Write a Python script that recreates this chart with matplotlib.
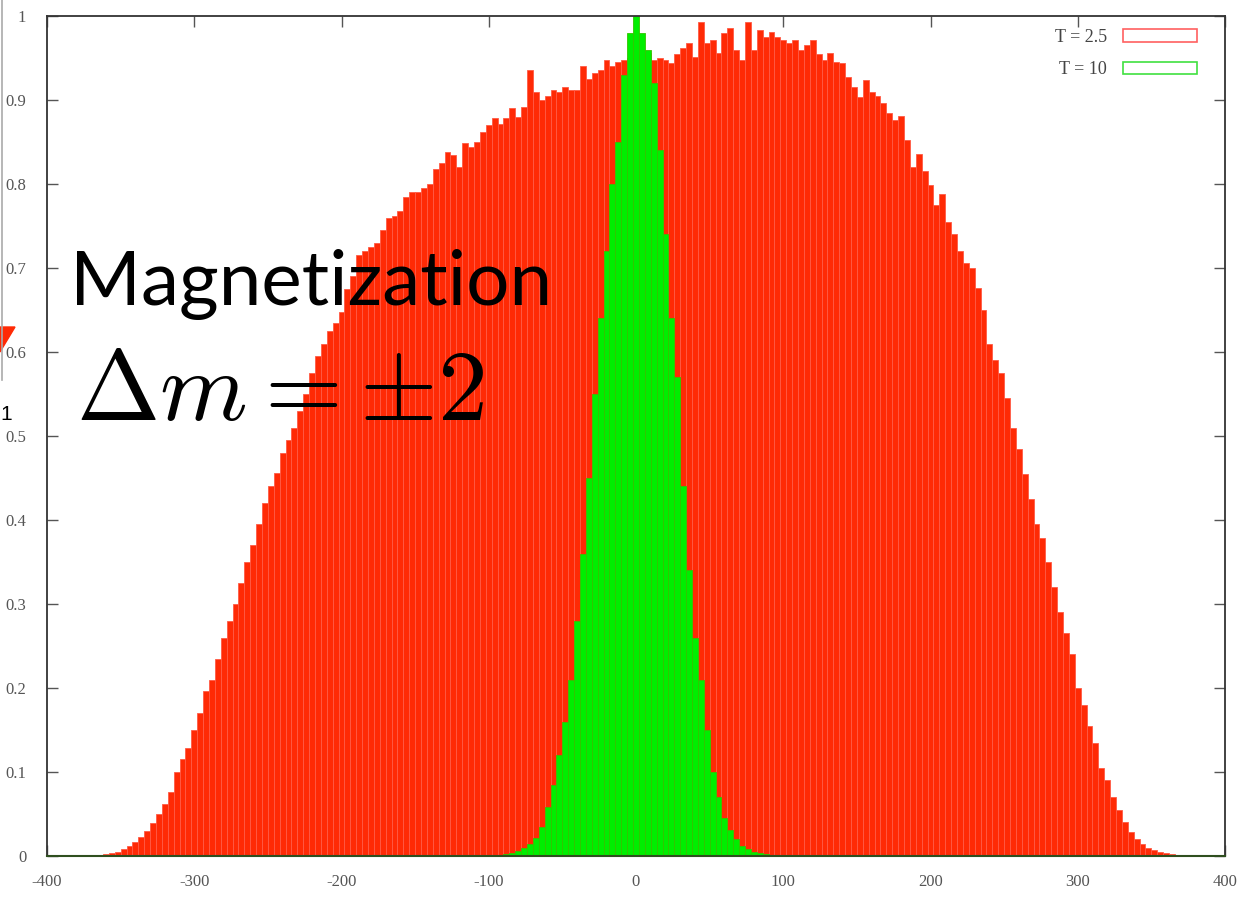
import numpy as np
import matplotlib
matplotlib.use("Agg")
import matplotlib.pyplot as plt
from matplotlib.patches import Patch, Polygon

# Histogram of magnetization, bins every 4 units
red_label = "T = 2.5"
red_v = [
    0.0005, 0.001, 0.002, 0.003, 0.005, 0.008, 0.012, 0.017, 0.023, 0.030,
    0.039, 0.050, 0.062, 0.076, 0.100, 0.115, 0.128, 0.150, 0.170, 0.197,
    0.210, 0.235, 0.260, 0.280, 0.300, 0.325, 0.350, 0.370, 0.395, 0.420,
    0.440, 0.456, 0.480, 0.495, 0.510, 0.530, 0.550, 0.575, 0.595, 0.610,
    0.625, 0.635, 0.648, 0.675, 0.690, 0.715, 0.720, 0.725, 0.730, 0.745,
    0.760, 0.762, 0.768, 0.785, 0.790, 0.790, 0.795, 0.800, 0.818, 0.825,
    0.838, 0.835, 0.820, 0.849, 0.844, 0.850, 0.862, 0.870, 0.878, 0.872,
    0.878, 0.890, 0.880, 0.892, 0.936, 0.910, 0.900, 0.905, 0.912, 0.910,
    0.916, 0.912, 0.912, 0.940, 0.925, 0.932, 0.936, 0.948, 0.940, 0.945,
    0.948, 0.950, 0.950, 0.955, 0.956, 0.948, 0.950, 0.948, 0.944, 0.955,
    0.962, 0.968, 0.951, 0.993, 0.968, 0.971, 0.956, 0.980, 0.986, 0.960,
    0.948, 0.993, 0.960, 0.983, 0.975, 0.981, 0.975, 0.971, 0.968, 0.971,
    0.960, 0.965, 0.971, 0.955, 0.948, 0.956, 0.945, 0.944, 0.927, 0.915,
    0.904, 0.924, 0.910, 0.905, 0.897, 0.885, 0.876, 0.881, 0.852, 0.820,
    0.836, 0.815, 0.799, 0.775, 0.788, 0.755, 0.740, 0.720, 0.706, 0.700,
    0.676, 0.650, 0.610, 0.590, 0.575, 0.545, 0.510, 0.485, 0.455, 0.425,
    0.395, 0.378, 0.350, 0.320, 0.290, 0.265, 0.240, 0.200, 0.180, 0.155,
    0.135, 0.105, 0.090, 0.070, 0.055, 0.040, 0.028, 0.020, 0.014, 0.010,
    0.007, 0.005, 0.003, 0.002, 0.001,
]
red_m = np.arange(-368, 369, 4)

green_label = "T = 10"
green_v = [
    0.000, 0.001, 0.002, 0.004, 0.006, 0.009, 0.014, 0.022, 0.035, 0.058,
    0.085, 0.120, 0.160, 0.210, 0.280, 0.360, 0.450, 0.550, 0.640, 0.720,
    0.800, 0.850, 0.930, 0.980, 1.000, 0.980, 0.960, 0.920, 0.840, 0.740,
    0.640, 0.570, 0.440, 0.340, 0.260, 0.210, 0.150, 0.100, 0.070, 0.045,
    0.031, 0.020, 0.012, 0.008, 0.005, 0.003, 0.002, 0.001, 0.000,
]
green_m = np.arange(-96, 97, 4)

x_ticks = [-400, -300, -200, -100, 0, 100, 200, 300, 400]
x_tick_labels = ["-400", "-300", "-200", "-100", "0", "100", "200", "300", "400"]
y_ticks = [0, 0.1, 0.2, 0.3, 0.4, 0.5, 0.6, 0.7, 0.8, 0.9, 1]
y_tick_labels = ["0", "0.1", "0.2", "0.3", "0.4", "0.5", "0.6", "0.7", "0.8", "0.9", "1"]

plt.rcParams["mathtext.fontset"] = "cm"

fig = plt.figure(figsize=(12.53, 9), dpi=100)
ax = fig.add_axes([47 / 1253, 1 - 856 / 900, 1178 / 1253, 840 / 900])

ax.bar(red_m, red_v, width=4, color="#ff2a05", edgecolor="#ff5a45", linewidth=0.6, zorder=2)
ax.bar(green_m, green_v, width=4, color="#00ee00", edgecolor="#33c400", linewidth=0.6, zorder=3)

ax.set_xlim(-400, 400)
ax.set_ylim(0, 1)
ax.set_xticks(x_ticks)
ax.set_xticklabels(x_tick_labels)
ax.set_yticks(y_ticks)
ax.set_yticklabels(y_tick_labels)
ax.tick_params(direction="in", length=8, width=1, color="#555555", top=True, right=True,
               labelsize=12, labelcolor="#555555")
ax.tick_params(axis="y", pad=15)
ax.tick_params(axis="x", pad=13)
for lab in ax.get_xticklabels() + ax.get_yticklabels():
    lab.set_fontfamily("Liberation Serif")
for side in ["left", "top", "right"]:
    ax.spines[side].set_color("#333333")
    ax.spines[side].set_linewidth(1.3)
ax.spines["bottom"].set_color("#2f4f1f")
ax.spines["bottom"].set_linewidth(1.5)
for s in ax.spines.values():
    s.set_zorder(5)

# legend: label on the left, hollow box on the right
handles = [Patch(facecolor="white", edgecolor="#ff6060", linewidth=1.2),
           Patch(facecolor="white", edgecolor="#40e040", linewidth=1.2)]
leg = ax.legend(handles, [red_label, green_label], loc="upper right",
                bbox_to_anchor=((1197 - 47) / 1178, (856 - 29) / 840),
                frameon=False, markerfirst=False, handlelength=4.1, handleheight=0.7,
                handletextpad=0.9, labelspacing=0.85, borderpad=0, borderaxespad=0,
                prop={"family": "Liberation Serif", "size": 13})
for t in leg.get_texts():
    t.set_color("#444444")

# slide overlay text
fig.text(70 / 1253, 1 - 305 / 900, "Magnetization", family=["Lato", "DejaVu Sans"],
         fontsize=55, color="black", va="baseline", ha="left", zorder=10)
fig.text(76 / 1253, 1 - 420 / 900, r"$\Delta m = \pm 2$", fontsize=72,
         color="black", va="baseline", ha="left", zorder=10)

# bits of the slide at the left edge
fig.add_artist(plt.Line2D([1.5 / 1253, 1.5 / 1253], [1 - 380 / 900, 1], color="#aaaaaa", lw=1.2))
fig.add_artist(Polygon([[0, 1 - 327 / 900], [15 / 1253, 1 - 327 / 900], [0, 1 - 352 / 900]],
                       closed=True, color="#ff2a05", transform=fig.transFigure))
fig.text(0, 1 - 420 / 900, "1", fontsize=15, family="Liberation Sans", color="black",
         va="baseline", ha="left")

fig.savefig("out.png", dpi=100)
